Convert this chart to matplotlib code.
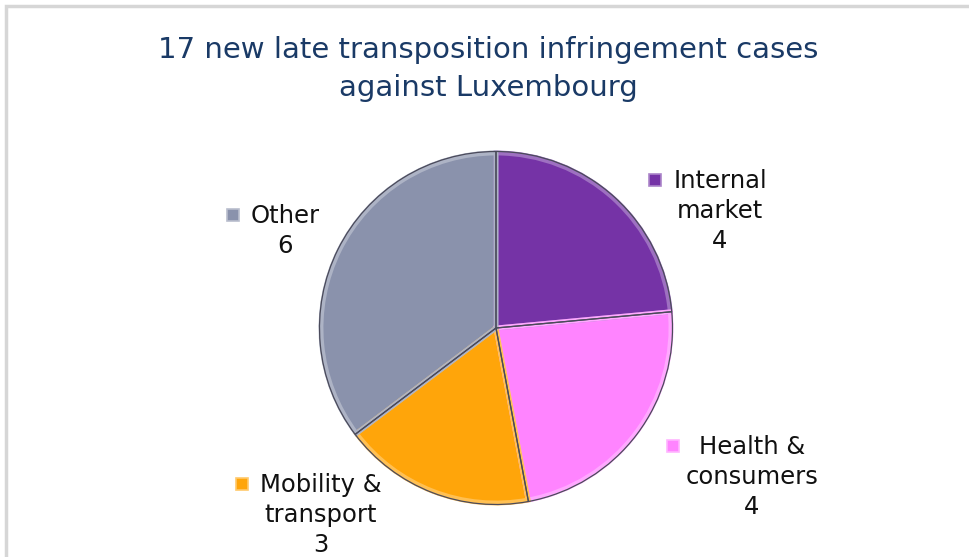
import matplotlib
matplotlib.use("Agg")
import matplotlib.pyplot as plt
from matplotlib.patches import Rectangle
from matplotlib.colors import to_rgb

W, H = 969, 557

title_lines = ["17 new late transposition infringement cases", "against Luxembourg"]
categories = ["Internal\nmarket", "Health &\nconsumers", "Mobility &\ntransport", "Other"]
cases = [4, 4, 3, 6]
colors = ["#7533A6", "#FF84FF", "#FFA50A", "#8A92AC"]

# where the labels sit (pixel positions, y measured from top)
label_xy = [(720, 181), (752, 447), (321, 485), (285, 216)]
marker_xy = [(655, 180), (673, 446), (242, 484), (233, 215)]


def lighter(c, k):
    r, g, b = to_rgb(c)
    return (r + (1 - r) * k, g + (1 - g) * k, b + (1 - b) * k)


fig = plt.figure(figsize=(W / 100, H / 100), dpi=100)
ax = fig.add_axes([0, 0, 1, 1])

centre = (496, H - 328)
rad = 176.5

wedges, _ = ax.pie(cases, colors=colors, startangle=90, counterclock=False,
                   center=centre, radius=rad, wedgeprops=dict(linewidth=0))

# soft bevel along the inside of every slice
bevel, _ = ax.pie(cases, startangle=90, counterclock=False, center=centre, radius=rad - 1.5,
                  wedgeprops=dict(facecolor="none", linewidth=3.5))
for w, b, c in zip(wedges, bevel, colors):
    b.set_edgecolor(lighter(c, 0.3))
    b.set_clip_path(w.get_path(), w.get_transform())

ax.pie(cases, startangle=90, counterclock=False, center=centre, radius=rad,
       wedgeprops=dict(facecolor="none", edgecolor="#4a4a5a", linewidth=0.9))

ax.set_xlim(0, W)
ax.set_ylim(0, H)
ax.set_aspect("equal")
ax.axis("off")

# light grey frame around the chart area
ax.add_patch(Rectangle((6, -20), W + 20, H - 6 + 20, fill=False,
                       edgecolor="#d6d6d6", linewidth=2.5))

for i, line in enumerate(title_lines):
    ax.text(488, H - (50 + 38 * i), line, ha="center", va="center",
            fontsize=21, color="#1A3A66")

for cat, val, col, (lx, ly), (mx, my) in zip(categories, cases, colors, label_xy, marker_xy):
    lines = (cat + "\n" + str(val)).split("\n")
    for i, line in enumerate(lines):
        ax.text(lx, H - (ly + 30 * i), line, ha="center", va="center",
                fontsize=17.5, color="#111111")
    ax.add_patch(Rectangle((mx - 6, H - my - 6), 12, 12, facecolor=col,
                           edgecolor=lighter(col, 0.4), linewidth=1.2))

fig.savefig("out.png", dpi=100)
